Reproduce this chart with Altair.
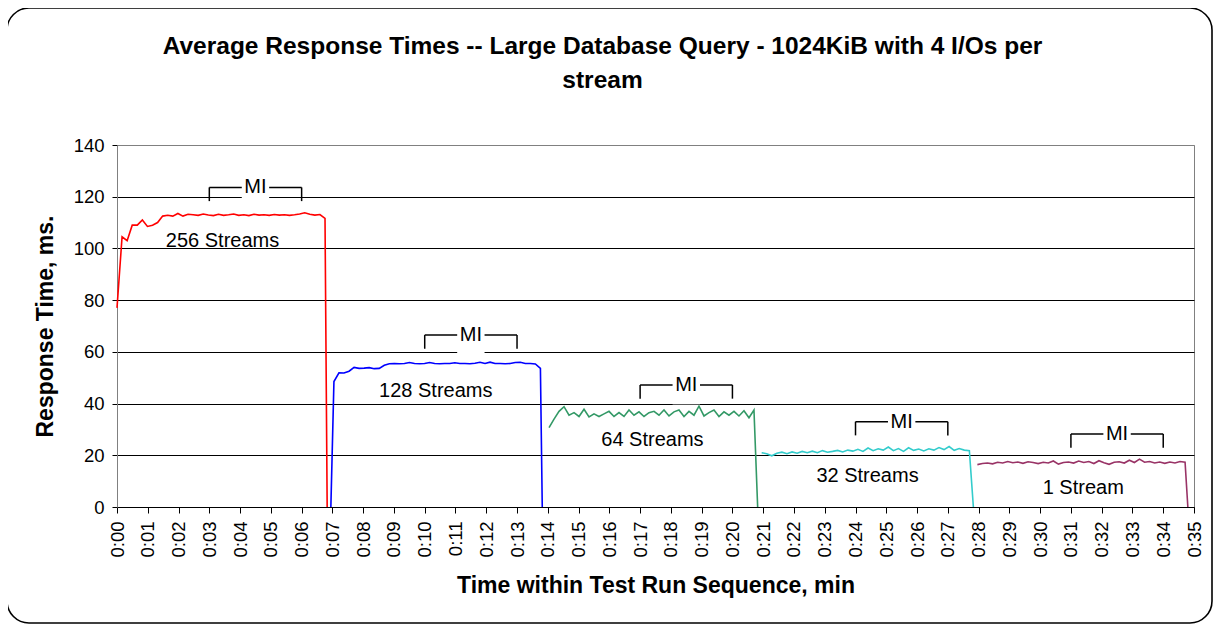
import altair as alt
import pandas as pd
import numpy as np

FONT = "Liberation Sans"

series_names = ["256 Streams", "128 Streams", "64 Streams", "32 Streams", "1 Stream"]
series_colors = ["#FF0000", "#0000FF", "#339966", "#33CCCC", "#993366"]

red_vals = [77, 104.5, 103, 109, 109, 111, 108.5, 109, 110, 112.5, 112.8, 112.5, 113.5, 112.5,
            113.2, 113, 112.8, 113.3, 112.9, 112.7, 113.2, 112.8, 113.0, 113.3, 112.8, 113.0,
            112.7, 113.2, 112.9, 113.0, 112.8, 113.1, 112.9, 113.0, 112.8, 113.0, 113.3, 113.8,
            113.2, 112.9, 113.1, 111.6]
blue_vals = [48.5, 51.9, 51.8, 52.5, 54.0, 53.6, 53.7, 53.9, 53.5, 53.6, 54.8, 55.4, 55.5, 55.4,
             55.5, 55.9, 55.5, 55.4, 55.5, 55.9, 55.5, 55.4, 55.5, 55.5, 55.8, 55.5, 55.5, 55.4,
             55.6, 56.0, 55.5, 56.0, 55.5, 55.5, 55.4, 55.5, 55.9, 56.0, 55.5, 55.5, 55.3, 53.6]
green_vals = [30.7, 34.0, 37.0, 38.8, 35.5, 36.5, 35.0, 37.8, 34.8, 36.0, 35.0, 36.0, 37.0, 35.0,
              36.5, 35.0, 37.5, 35.5, 36.8, 35.0, 36.5, 37.0, 35.5, 37.5, 35.2, 36.8, 37.5, 35.0,
              37.0, 35.5, 39.0, 35.2, 36.5, 37.5, 35.0, 36.8, 35.5, 37.0, 35.2, 37.2, 34.5, 37.5]
cyan_vals = [21.0, 20.6, 19.8, 20.8, 21.2, 20.6, 21.3, 20.8, 21.5, 21.0, 21.6, 21.0, 21.8, 21.2,
             21.5, 21.9, 21.3, 22.0, 21.6, 22.3, 21.5, 22.8, 21.8, 22.5, 22.0, 23.2, 21.8, 22.6,
             21.5, 22.9, 21.9, 22.4, 21.7, 22.5, 22.0, 23.0, 22.2, 23.4, 21.9, 22.6, 22.0, 21.8]
purple_vals = [16.4, 16.8, 17.0, 16.7, 17.3, 17.0, 17.6, 17.1, 17.4, 16.9, 17.5, 17.2, 16.8, 17.3,
               17.0, 17.8, 16.6, 17.2, 17.4, 17.0, 17.8, 17.2, 17.6, 16.8, 17.9, 17.1, 16.5, 17.3,
               17.5, 17.0, 18.1, 17.2, 18.5, 17.3, 17.6, 17.0, 17.4, 16.9, 17.4, 17.0, 17.6, 17.3]

# time (minutes) of first/last sample, of the drop to zero, and of a leading zero sample
start_min = [0.0, 7.05, 14.04, 20.95, 27.96]
end_min = [6.76, 13.76, 20.70, 27.70, 34.71]
drop_min = [6.83, 13.82, 20.82, 27.83, 34.80]
lead_zero_min = [None, 6.95, None, None, None]

label_x = [3.43, 10.36, 17.4, 24.39, 31.4]
label_y = [102.7, 44.7, 26.1, 12.1, 7.2]

mi_start = [3, 10, 17, 24, 31]
mi_end = [6, 13, 20, 27, 34]
mi_top = [123.6, 66.5, 47.2, 33.0, 28.2]
mi_leg = 5.3

title_lines = ["Average Response Times -- Large Database Query - 1024KiB with 4 I/Os per", "stream"]

all_vals = [red_vals, blue_vals, green_vals, cyan_vals, purple_vals]
rows = []
for name, vals, t0, t1, td, tz in zip(series_names, all_vals, start_min, end_min, drop_min, lead_zero_min):
    if tz is not None:
        rows.append({"series": name, "t": tz, "v": 0.0})
    for t, v in zip(np.linspace(t0, t1, len(vals)), vals):
        rows.append({"series": name, "t": float(t), "v": v})
    rows.append({"series": name, "t": td, "v": 0.0})
df = pd.DataFrame(rows)

labels_df = pd.DataFrame({"x": label_x, "y": label_y, "text": series_names})
mi_df = pd.DataFrame({"s": mi_start, "e": mi_end, "top": mi_top})
mi_df["bot"] = mi_df["top"] - mi_leg
mi_df["c"] = (mi_df["s"] + mi_df["e"]) / 2
mi_df["bl"] = mi_df["c"] - 0.445
mi_df["br"] = mi_df["c"] + 0.445
mi_df["btop"] = mi_df["top"] + 4
mi_df["bbot"] = mi_df["top"] - 7.5
mi_df["label"] = "MI"

xscale = alt.Scale(domain=[0, 35], nice=False, zero=False)
yscale = alt.Scale(domain=[0, 140], nice=False)

xaxis = alt.Axis(
    values=list(range(36)),
    labelExpr="'0:' + (datum.value < 10 ? '0' : '') + datum.value",
    labelAngle=270, labelAlign="right", labelBaseline="middle",
    labelFont=FONT, labelFontSize=18.5, labelColor="black", labelPadding=8,
    labelOverlap=False, labelFlush=False,
    tickSize=6, tickColor="black", domainColor="black", grid=False,
    title="Time within Test Run Sequence, min", titleFont=FONT, titleFontSize=23,
    titleFontWeight="bold", titleColor="black", titleX=538.5, titleY=78,
    titleAlign="center", titleBaseline="middle",
)
yaxis = alt.Axis(
    values=[0, 20, 40, 60, 80, 100, 120, 140],
    grid=True,
    gridColor={"condition": {"test": "datum.value >= 140", "value": "#808080"}, "value": "black"},
    gridWidth=1,
    labelFont=FONT, labelFontSize=18.5, labelColor="black", labelPadding=8,
    tickSize=5, tickColor="black", domainColor="#808080",
    title="Response Time, ms.", titleFont=FONT, titleFontSize=23, titleFontWeight="bold",
    titleColor="black", titleAngle=270, titleX=-72, titleY=181,
    titleAlign="center", titleBaseline="middle",
)

def X(field):
    return alt.X(field, type="quantitative", scale=xscale, axis=xaxis)

def Y(field):
    return alt.Y(field, type="quantitative", scale=yscale, axis=yaxis)

one = alt.Data(values=[{"a": 1}])

frame = alt.Chart(one).mark_rect(
    fillOpacity=0, stroke="black", strokeWidth=1.6, cornerRadius=22
).encode(
    x=alt.value(-110), x2=alt.value(1095), y=alt.value(-137), y2=alt.value(478)
)

title = alt.Chart(one).mark_text(
    font=FONT, fontSize=24.5, fontWeight="bold", color="black",
    align="center", baseline="top", lineHeight=34
).encode(
    x=alt.value(485.5), y=alt.value(-110), text=alt.value(title_lines)
)

boxes = alt.Chart(mi_df).mark_rect(fill="white", stroke=None).encode(
    x=X("bl"), x2="br", y=Y("btop"), y2="bbot"
)
mi_h = alt.Chart(mi_df).mark_rule(color="black", strokeWidth=1.5).encode(
    x=X("s"), x2="bl", y=Y("top")
)
mi_h2 = alt.Chart(mi_df).mark_rule(color="black", strokeWidth=1.5).encode(
    x=X("br"), x2="e", y=Y("top")
)
mi_l = alt.Chart(mi_df).mark_rule(color="black", strokeWidth=1.5).encode(
    x=X("s"), y=Y("top"), y2="bot"
)
mi_r = alt.Chart(mi_df).mark_rule(color="black", strokeWidth=1.5).encode(
    x=X("e"), y=Y("top"), y2="bot"
)
mi_t = alt.Chart(mi_df).mark_text(
    font=FONT, fontSize=20, color="black", align="center", baseline="middle"
).encode(x=X("c"), y=Y("top"), text="label:N")

stream_labels = alt.Chart(labels_df).mark_text(
    font=FONT, fontSize=20, color="black", align="center", baseline="middle"
).encode(x=X("x"), y=Y("y"), text="text:N")

lines = alt.Chart(df).mark_line(strokeWidth=1.6).encode(
    x=X("t"), y=Y("v"),
    color=alt.Color("series:N", scale=alt.Scale(domain=series_names, range=series_colors), legend=None),
    order=alt.Order("t:Q"),
)

chart = alt.layer(
    frame, boxes, mi_h, mi_h2, mi_l, mi_r, mi_t, stream_labels, lines, title
).properties(
    width=1077, height=362,
    autosize=alt.AutoSizeParams(type="none"),
    padding={"left": 109, "top": 137, "right": 19, "bottom": 118},
).configure(
    background="white"
).configure_view(
    stroke="#808080", strokeWidth=1
)

chart.save("out.html", embed_options={"renderer": "svg", "actions": False})
